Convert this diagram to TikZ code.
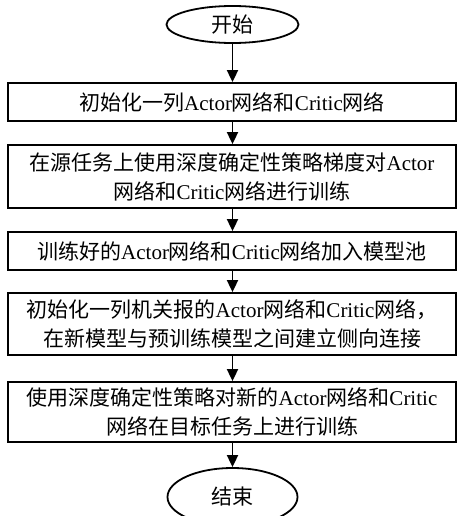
\documentclass[tikz,border=0pt]{standalone}
\usepackage{fontspec}
\setmainfont{Liberation Serif}
\newfontfamily\cjk{Noto Sans CJK SC}
\usetikzlibrary{shapes.geometric,arrows.meta}
\newcommand{\zh}[1]{{\cjk #1}}
\begin{document}
\begin{tikzpicture}[x=1pt,y=-1pt,
  every node/.style={font=\fontsize{21pt}{29pt}\selectfont, inner sep=0pt},
  terminal/.style={draw, ellipse, line width=1.8pt, minimum width=132pt},
  stepbox/.style={draw, rectangle, line width=1.8pt, minimum width=448pt, align=center},
  flow/.style={line width=1.8pt, -{Triangle[length=12pt,width=11pt]}}]
\useasboundingbox (0,0) rectangle (457,516);
\node[terminal, minimum height=37pt] (start) at (232.5,24.5) {\zh{开始}};
\node[stepbox, minimum height=38pt] (s1) at (232,102)
  {\zh{初始化一列}Actor\zh{网络和}Critic\zh{网络}};
\node[stepbox, minimum height=63pt] (s2) at (232,176.5)
  {\zh{在源任务上使用深度确定性策略梯度对}Actor\\\zh{网络和}Critic\zh{网络进行训练}};
\node[stepbox, minimum height=38pt] (s3) at (232,251)
  {\zh{训练好的}Actor\zh{网络和}Critic\zh{网络加入模型池}};
\node[stepbox, minimum height=62pt] (s4) at (232,324)
  {\zh{初始化一列机关报的}Actor\zh{网络和}Critic\zh{网络，}\\\zh{在新模型与预训练模型之间建立侧向连接}};
\node[stepbox, minimum height=60pt] (s5) at (232,412)
  {\zh{使用深度确定性策略对新的}Actor\zh{网络和}Critic\\\zh{网络在目标任务上进行训练}};
\node[terminal, minimum height=58pt, minimum width=130pt] (stop) at (232.5,497) {\zh{结束}};
\draw[flow] (start.south) -- (start.south |- s1.north);
\draw[flow] (start.south |- s1.south) -- (start.south |- s2.north);
\draw[flow] (start.south |- s2.south) -- (start.south |- s3.north);
\draw[flow] (start.south |- s3.south) -- (start.south |- s4.north);
\draw[flow] (start.south |- s4.south) -- (start.south |- s5.north);
\draw[flow] (start.south |- s5.south) -- (stop.north);
\end{tikzpicture}
\end{document}
